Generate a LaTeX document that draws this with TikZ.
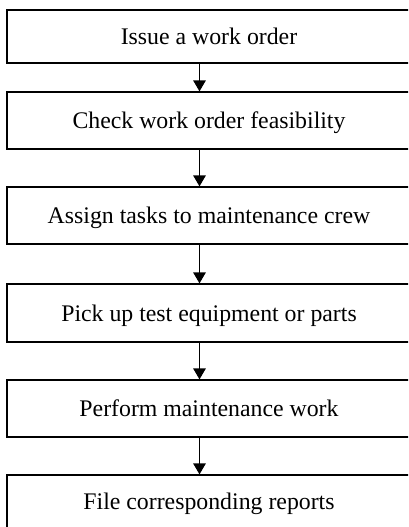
\documentclass[tikz,border=0pt]{standalone}
\usepackage{fontspec}
\setmainfont{Liberation Serif}
\usetikzlibrary{arrows.meta}
\begin{document}
\begin{tikzpicture}[x=1pt,y=1pt,
  stepbox/.style={draw=black, line width=1.2pt, rectangle, minimum width=404pt,
    inner sep=0pt, text height=16pt, text depth=0pt,
    font=\fontsize{23.8}{28}\selectfont},
  flow/.style={line width=1.2pt, -{Triangle[width=12.5pt,length=11pt]}}]
\clip (0,0) rectangle (408,-527);
\useasboundingbox (0,0) rectangle (408,-527);
\node[stepbox, minimum height=53pt] (b1) at (209,-36.5) {Issue a work order};
\node[stepbox, minimum height=57pt] (b2) at (209,-120.5) {Check work order feasibility};
\node[stepbox, minimum height=57pt] (b3) at (209,-215.5) {Assign tasks to maintenance crew};
\node[stepbox, minimum height=58pt] (b4) at (209,-313) {Pick up test equipment or parts};
\node[stepbox, minimum height=57pt] (b5) at (209,-408.5) {Perform maintenance work};
\node[stepbox, minimum height=53pt] (b6) at (209,-501.5) {File corresponding reports};
\draw[flow] ([xshift=-9.5pt]b1.south) -- ([xshift=-9.5pt]b2.north);
\draw[flow] ([xshift=-9.5pt]b2.south) -- ([xshift=-9.5pt]b3.north);
\draw[flow] ([xshift=-9.5pt]b3.south) -- ([xshift=-9.5pt]b4.north);
\draw[flow] ([xshift=-9.5pt]b4.south) -- ([xshift=-9.5pt]b5.north);
\draw[flow] ([xshift=-9.5pt]b5.south) -- ([xshift=-9.5pt]b6.north);
\end{tikzpicture}
\end{document}
